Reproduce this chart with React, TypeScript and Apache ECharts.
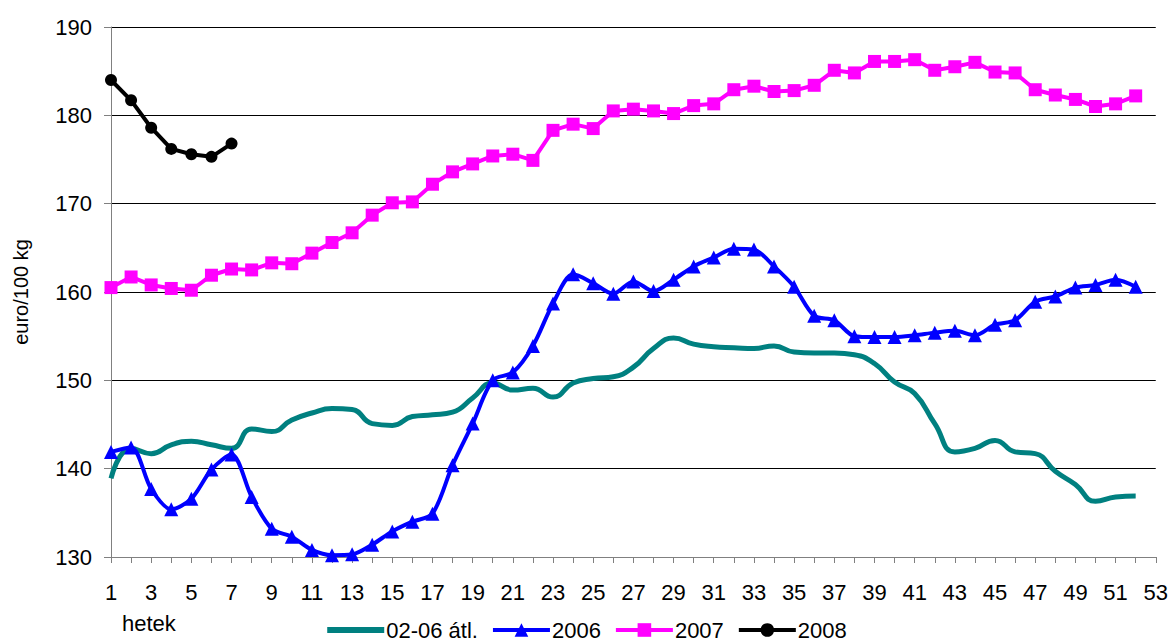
import React, { useEffect, useRef } from "react";
import * as echarts from "echarts";

const weeks: string[] = Array.from({ length: 53 }, (_, i) => String(i + 1));

const avg0206: number[] = [
  138.9, 142.3, 141.7, 142.7, 143.1, 142.7, 142.3, 144.5, 144.2, 145.5,
  146.3, 146.8, 146.7, 145.1, 144.9, 145.9, 146.1, 146.4, 148.0, 149.7,
  148.9, 149.1, 148.1, 149.7, 150.2, 150.4, 151.5, 153.6, 154.8, 154.1,
  153.8, 153.7, 153.6, 153.9, 153.2, 153.1, 153.1, 152.9, 151.9, 149.8,
  148.5, 145.1, 141.9, 142.3, 143.2, 141.9, 141.7, 139.7, 138.2, 136.3,
  136.8, 136.9,
];

const y2006: number[] = [
  141.9, 142.4, 137.7, 135.4, 136.6, 139.9, 141.6, 136.8, 133.2, 132.3,
  130.8, 130.2, 130.3, 131.4, 132.9, 134.0, 134.9, 140.4, 145.1, 150.0,
  150.9, 153.9, 158.7, 162.0, 161.0, 159.8, 161.2, 160.1, 161.4, 162.9,
  163.9, 164.9, 164.8, 162.9, 160.6, 157.3, 156.8, 155.0, 154.9, 154.9,
  155.1, 155.4, 155.6, 155.1, 156.3, 156.8, 158.9, 159.5, 160.5, 160.8,
  161.4, 160.6,
];

const y2007: number[] = [
  160.5, 161.7, 160.8, 160.4, 160.2, 161.9, 162.6, 162.5, 163.3, 163.2,
  164.4, 165.6, 166.7, 168.7, 170.1, 170.2, 172.2, 173.6, 174.5, 175.4,
  175.6, 174.9, 178.3, 179.0, 178.5, 180.5, 180.7, 180.5, 180.2, 181.1,
  181.3, 182.9, 183.3, 182.7, 182.8, 183.4, 185.1, 184.8, 186.1, 186.1,
  186.3, 185.1, 185.5, 186.0, 184.9, 184.8, 182.9, 182.3, 181.8, 181.0,
  181.3, 182.2,
];

const y2008: number[] = [184.0, 181.7, 178.6, 176.2, 175.6, 175.3, 176.8];

const seriesNames = ["02-06 átl.", "2006", "2007", "2008"];
const yAxisName = "euro/100 kg";
const xAxisTitle = "hetek";

const FONT = "'Liberation Sans', Arial, sans-serif";

export default function App() {
  const ref = useRef<HTMLDivElement>(null);
  useEffect(() => {
    if (!ref.current) return;
    const chart = echarts.init(ref.current, undefined, { renderer: "svg" });
    chart.setOption({
      animation: false,
      backgroundColor: "#ffffff",
      textStyle: { fontFamily: FONT },
      grid: { left: 111, right: 15, top: 27, bottom: 86, containLabel: false },
      legend: {
        data: [
          { name: seriesNames[0], itemStyle: { opacity: 0 }, lineStyle: { width: 6 } },
          { name: seriesNames[1], lineStyle: { width: 4 } },
          { name: seriesNames[2], lineStyle: { width: 4 } },
          { name: seriesNames[3], lineStyle: { width: 4 } },
        ],
        left: "center",
        top: 619,
        padding: 0,
        itemWidth: 57,
        itemHeight: 17,
        itemGap: 13,
        textStyle: { fontSize: 22, lineHeight: 22, color: "#000", fontFamily: FONT, padding: [0, 0, 0, -3] },
      },
      graphic: [
        {
          type: "text",
          left: 122,
          top: 612,
          style: { text: xAxisTitle, fontSize: 22, fill: "#000", fontFamily: FONT },
        },
      ],
      xAxis: {
        type: "category",
        data: weeks,
        boundaryGap: false,
        axisLine: { lineStyle: { color: "#808080", width: 1 } },
        axisTick: { show: true, interval: 0, length: 6, lineStyle: { color: "#808080" } },
        axisLabel: { interval: 1, fontSize: 22, color: "#000", margin: 24, fontFamily: FONT },
        splitLine: { show: false },
      },
      yAxis: {
        type: "value",
        min: 130,
        max: 190,
        interval: 10,
        name: yAxisName,
        nameLocation: "middle",
        nameGap: 80,
        nameTextStyle: { fontSize: 20, color: "#000", fontFamily: FONT },
        axisLine: { show: true, lineStyle: { color: "#808080", width: 1 } },
        axisTick: { show: true, length: 7, lineStyle: { color: "#808080" } },
        axisLabel: { fontSize: 22, color: "#000", margin: 19, fontFamily: FONT },
        splitLine: { show: true, lineStyle: { color: "#000", width: 1 } },
      },
      series: [
        {
          name: seriesNames[0],
          type: "line",
          data: avg0206,
          smooth: 0.5,
          symbol: "none",
          showSymbol: false,
          itemStyle: { color: "#008080" },
          lineStyle: { color: "#008080", width: 5 },
          z: 2,
        },
        {
          name: seriesNames[1],
          type: "line",
          data: y2006,
          smooth: 0.3,
          symbol: "triangle",
          symbolSize: 14,
          showAllSymbol: true,
          itemStyle: { color: "#0000FF" },
          lineStyle: { color: "#0000FF", width: 4 },
          z: 3,
        },
        {
          name: seriesNames[2],
          type: "line",
          data: y2007,
          symbol: "rect",
          symbolSize: 13,
          showAllSymbol: true,
          itemStyle: { color: "#FF00FF" },
          lineStyle: { color: "#FF00FF", width: 4 },
          z: 4,
        },
        {
          name: seriesNames[3],
          type: "line",
          data: y2008,
          symbol: "circle",
          symbolSize: 12,
          showAllSymbol: true,
          itemStyle: { color: "#000000" },
          lineStyle: { color: "#000000", width: 4 },
          z: 5,
        },
      ],
    });
    return () => chart.dispose();
  }, []);
  return (
    <div
      ref={ref}
      style={{ position: "fixed", left: 0, top: 0, width: 1171, height: 643, background: "#fff" }}
    />
  );
}
